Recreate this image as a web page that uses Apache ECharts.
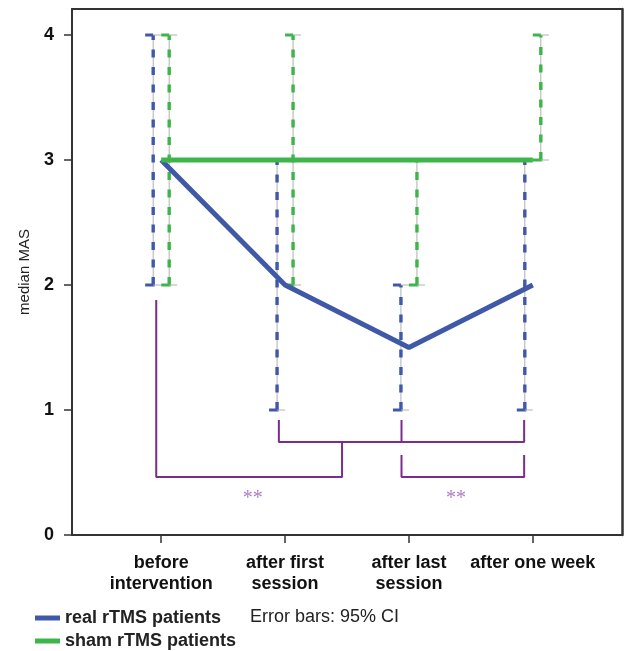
<!DOCTYPE html>
<html>
<head>
<meta charset="utf-8">
<script src="https://cdn.jsdelivr.net/npm/echarts@6/dist/echarts.min.js"></script>
<style>html,body{margin:0;padding:0;background:#fff}#c{width:627px;height:651px}</style>
</head>
<body>
<div id="c"></div>
<script>
// ---- data ----
var categories = ['before\nintervention', 'after first\nsession', 'after last\nsession', 'after one week'];
var yTicks = [0, 1, 2, 3, 4];
var realMedian = [3, 2, 1.5, 2];
var shamMedian = [3, 3, 3, 3];
var realCILow  = [2, 1, 1, 1];
var realCIHigh = [4, 3, 2, 3];
var shamCILow  = [2, 2, 2, 3];
var shamCIHigh = [4, 4, 3, 4];
// significance brackets (x in category index units, y in MAS units)
var bracketA = [[-0.04, 1.88], [-0.04, 0.464], [1.46, 0.464], [1.46, 0.744]];
var bracketB = [[0.95, 0.92], [0.95, 0.744], [2.93, 0.744], [2.93, 0.92]];
var bracketBMid = [[1.94, 0.92], [1.94, 0.744]];
var bracketC = [[1.94, 0.64], [1.94, 0.464], [2.93, 0.464], [2.93, 0.64]];
var starMarks = [[0.74, 0.29], [2.38, 0.29]];

var BLUE = '#3F58A7', GREEN = '#3DB54A', PURPLE = '#7B2D8E';
var FONT = 'Liberation Sans, Arial, sans-serif';

function pts(arr) { return arr.map(function (v, i) { return [i, v]; }); }
function ciData(lo, hi) { return lo.map(function (l, i) { return [i, l, hi[i]]; }); }

function errRender(color, dx) {
  return function (params, api) {
    var x = api.value(0);
    var pLo = api.coord([x, api.value(1)]);
    var pHi = api.coord([x, api.value(2)]);
    var cx = pLo[0] + dx;
    var yl = pLo[1], yh = pHi[1];
    return {
      type: 'group',
      children: [
        {type: 'line', shape: {x1: cx, y1: yl, x2: cx, y2: yh}, style: {stroke: '#b0b0b0', lineWidth: 1}},
        {type: 'line', shape: {x1: cx, y1: yl, x2: cx, y2: yh}, style: {stroke: color, lineWidth: 3.4, lineDash: [8, 9.5]}},
        {type: 'line', shape: {x1: cx - 8, y1: yh, x2: cx, y2: yh}, style: {stroke: color, lineWidth: 3}},
        {type: 'line', shape: {x1: cx, y1: yh, x2: cx + 8, y2: yh}, style: {stroke: '#b0b0b0', lineWidth: 1}},
        {type: 'line', shape: {x1: cx - 8, y1: yl, x2: cx + 1.5, y2: yl}, style: {stroke: color, lineWidth: 3}},
        {type: 'line', shape: {x1: cx, y1: yl, x2: cx + 8, y2: yl}, style: {stroke: '#b0b0b0', lineWidth: 1}}
      ]
    };
  };
}

function bracket(data) {
  return {
    type: 'line', data: data, showSymbol: false, silent: true, z: 1,
    lineStyle: {color: PURPLE, width: 2}, animation: false
  };
}

var legendText = {fontFamily: FONT, fontWeight: 'bold', fontSize: 18, color: '#222'};

var chart = echarts.init(document.getElementById('c'), null, {renderer: 'canvas'});
chart.setOption({
  animation: false,
  grid: {left: 72, right: 5, top: 9, bottom: 116},
  xAxis: [{
    type: 'value', min: -0.72, max: 3.72,
    splitLine: {show: false},
    axisLine: {show: true, onZero: false, lineStyle: {color: '#333', width: 2}},
    axisTick: {show: true, customValues: [0, 1, 2, 3], length: 8, lineStyle: {color: '#333', width: 1.5}},
    axisLabel: {
      customValues: [0, 1, 2, 3], margin: 18,
      formatter: function (v) { return categories[Math.round(v)]; },
      fontFamily: FONT, fontWeight: 'bold', fontSize: 18, color: '#111', lineHeight: 21
    }
  }, {
    type: 'value', position: 'top', min: -0.72, max: 3.72,
    splitLine: {show: false}, axisTick: {show: false}, axisLabel: {show: false},
    axisLine: {show: true, onZero: false, lineStyle: {color: '#333', width: 2}}
  }],
  yAxis: [{
    type: 'value', min: 0, max: 4.208,
    name: 'median MAS', nameLocation: 'middle', nameGap: 40, nameRotate: 90,
    nameTextStyle: {fontFamily: FONT, fontSize: 15, color: '#222'},
    splitLine: {show: false},
    axisLine: {show: true, onZero: false, lineStyle: {color: '#333', width: 2}},
    axisTick: {show: true, customValues: yTicks, length: 8, lineStyle: {color: '#333', width: 1.5}},
    axisLabel: {customValues: yTicks, margin: 18, fontFamily: FONT, fontWeight: 'bold', fontSize: 18, color: '#111'}
  }, {
    type: 'value', position: 'right', min: 0, max: 4.208,
    splitLine: {show: false}, axisTick: {show: false}, axisLabel: {show: false},
    axisLine: {show: true, onZero: false, lineStyle: {color: '#333', width: 2.5}}
  }],
  legend: [{
    left: 30, top: 604, itemWidth: 25, itemHeight: 5, itemGap: 8, icon: 'rect',
    data: ['real rTMS patients'], textStyle: legendText
  }, {
    left: 30, top: 627, itemWidth: 25, itemHeight: 5, itemGap: 8, icon: 'rect',
    data: ['sham rTMS patients'], textStyle: legendText
  }],
  graphic: [{
    type: 'text', left: 250, top: 608,
    style: {text: 'Error bars: 95% CI', font: '18px ' + FONT, fill: '#222'}
  }],
  series: [
    bracket(bracketA), bracket(bracketB), bracket(bracketBMid), bracket(bracketC),
    {
      type: 'scatter', data: starMarks, symbolSize: 0, silent: true,
      label: {show: true, formatter: '**', position: 'inside', color: '#9a5bb3',
              fontFamily: 'Liberation Serif, serif', fontSize: 20}
    },
    {type: 'custom', renderItem: errRender(BLUE, -8), data: ciData(realCILow, realCIHigh), z: 3, silent: true},
    {type: 'custom', renderItem: errRender(GREEN, 8), data: ciData(shamCILow, shamCIHigh), z: 3, silent: true},
    {
      name: 'real rTMS patients', type: 'line', data: pts(realMedian), showSymbol: false, z: 4,
      lineStyle: {color: BLUE, width: 5}, itemStyle: {color: BLUE}
    },
    {
      name: 'sham rTMS patients', type: 'line', data: pts(shamMedian), showSymbol: false, z: 5,
      lineStyle: {color: GREEN, width: 5}, itemStyle: {color: GREEN}
    }
  ]
});
</script>
</body>
</html>
